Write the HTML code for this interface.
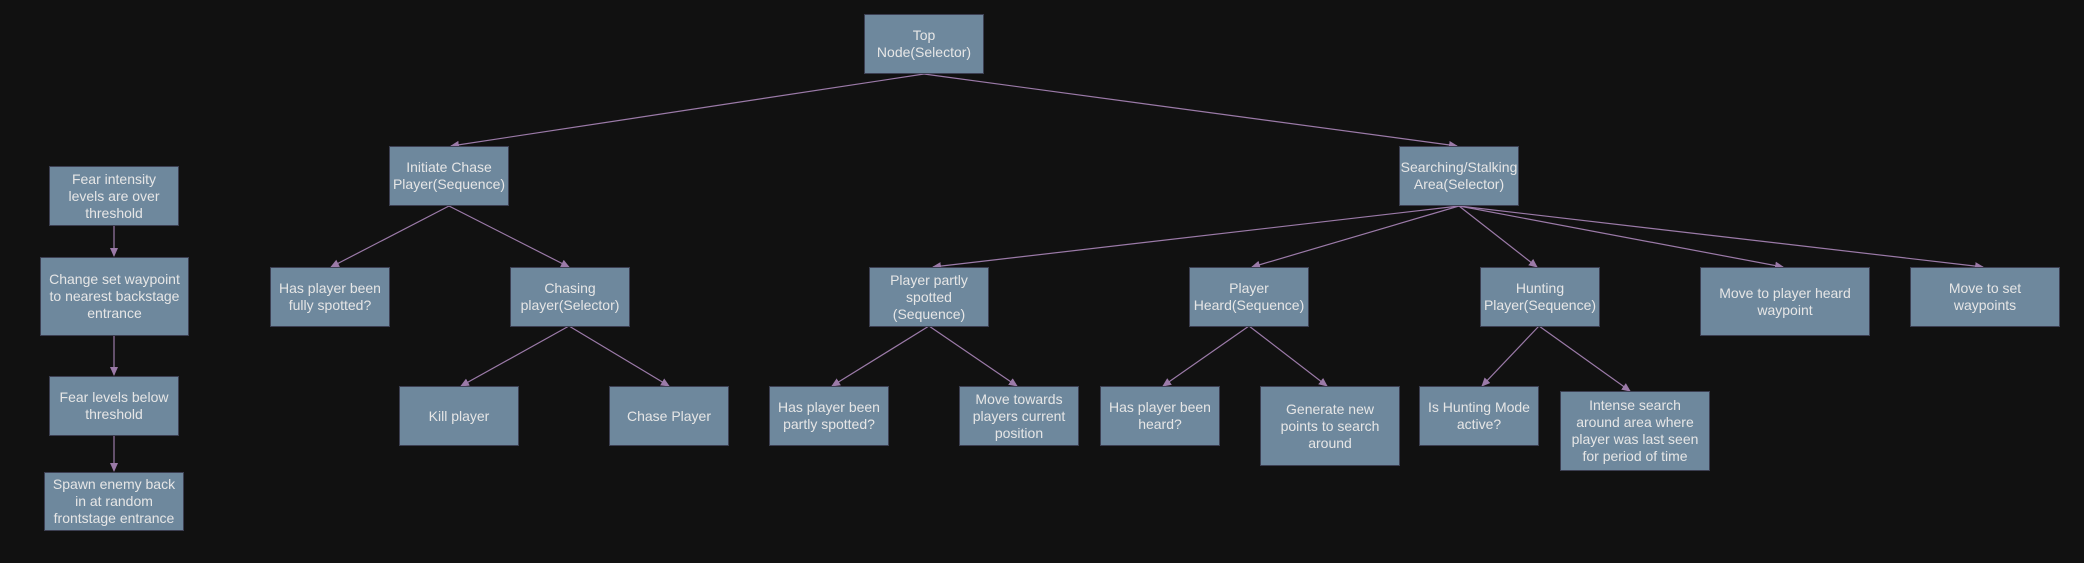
<!DOCTYPE html>
<html><head><meta charset="utf-8"><style>
html,body{margin:0;padding:0;background:#111111;}
body{width:2084px;height:563px;position:relative;overflow:hidden;font-family:"Liberation Sans",Arial,sans-serif;}
.n{position:absolute;box-sizing:border-box;background:#6e889d;border:1.5px solid #3c3f52;color:#e6e6e6;font-size:14px;line-height:17px;display:flex;align-items:center;justify-content:center;text-align:center;padding:0 7px;}
.w{padding:0 1px;}
svg{position:absolute;left:0;top:0;}
</style></head><body>
<svg width="2084" height="563" viewBox="0 0 2084 563">
<defs><marker id="a" markerWidth="10" markerHeight="10" refX="8" refY="4" orient="auto" markerUnits="userSpaceOnUse"><path d="M0,0 L9,4 L0,8 z" fill="#9b7aa8"/></marker></defs>
<g stroke="#9b7aa8" stroke-width="1.2" fill="none" marker-end="url(#a)">
<line x1="924" y1="74" x2="451" y2="146"/>
<line x1="924" y1="74" x2="1457" y2="146"/>
<line x1="449" y1="206" x2="331" y2="267"/>
<line x1="449" y1="206" x2="569" y2="267"/>
<line x1="569" y1="326" x2="461" y2="386"/>
<line x1="569" y1="326" x2="669" y2="386"/>
<line x1="1459" y1="206" x2="933" y2="267"/>
<line x1="1459" y1="206" x2="1252" y2="267"/>
<line x1="1459" y1="206" x2="1537" y2="267"/>
<line x1="1459" y1="206" x2="1783" y2="267"/>
<line x1="1459" y1="206" x2="1983" y2="267"/>
<line x1="929" y1="326" x2="832" y2="386"/>
<line x1="929" y1="326" x2="1017" y2="386"/>
<line x1="1249" y1="326" x2="1163" y2="386"/>
<line x1="1249" y1="326" x2="1327" y2="386"/>
<line x1="1539" y1="326" x2="1482" y2="386"/>
<line x1="1539" y1="326" x2="1630" y2="391"/>
<line x1="114" y1="226" x2="114" y2="256"/>
<line x1="114" y1="336" x2="114" y2="375"/>
<line x1="114" y1="436" x2="114" y2="471"/>
</g></svg>
<div class="n" style="left:864px;top:14px;width:120px;height:60px">Top<br>Node(Selector)</div>
<div class="n w" style="left:389px;top:146px;width:120px;height:60px">Initiate Chase Player(Sequence)</div>
<div class="n w" style="left:1399px;top:146px;width:120px;height:60px">Searching/Stalking Area(Selector)</div>
<div class="n" style="left:49px;top:166px;width:130px;height:60px">Fear intensity levels are over threshold</div>
<div class="n" style="left:40px;top:257px;width:149px;height:79px">Change set waypoint to nearest backstage entrance</div>
<div class="n" style="left:49px;top:376px;width:130px;height:60px">Fear levels below threshold</div>
<div class="n" style="left:44px;top:472px;width:140px;height:59px">Spawn enemy back in at random frontstage entrance</div>
<div class="n" style="left:270px;top:267px;width:120px;height:60px">Has player been fully spotted?</div>
<div class="n w" style="left:510px;top:267px;width:120px;height:60px">Chasing player(Selector)</div>
<div class="n" style="left:399px;top:386px;width:120px;height:60px">Kill player</div>
<div class="n" style="left:609px;top:386px;width:120px;height:60px">Chase Player</div>
<div class="n" style="left:869px;top:267px;width:120px;height:60px">Player partly spotted (Sequence)</div>
<div class="n" style="left:769px;top:386px;width:120px;height:60px">Has player been partly spotted?</div>
<div class="n" style="left:959px;top:386px;width:120px;height:60px">Move towards players current position</div>
<div class="n w" style="left:1189px;top:267px;width:120px;height:60px">Player Heard(Sequence)</div>
<div class="n w" style="left:1480px;top:267px;width:120px;height:60px">Hunting Player(Sequence)</div>
<div class="n" style="left:1700px;top:267px;width:170px;height:69px">Move to player heard waypoint</div>
<div class="n" style="left:1910px;top:267px;width:150px;height:60px">Move to set waypoints</div>
<div class="n" style="left:1100px;top:386px;width:120px;height:60px">Has player been heard?</div>
<div class="n" style="left:1260px;top:386px;width:140px;height:80px">Generate new points to search around</div>
<div class="n" style="left:1419px;top:386px;width:120px;height:60px">Is Hunting Mode active?</div>
<div class="n" style="left:1560px;top:391px;width:150px;height:80px">Intense search around area where player was last seen for period of time</div>
</body></html>
